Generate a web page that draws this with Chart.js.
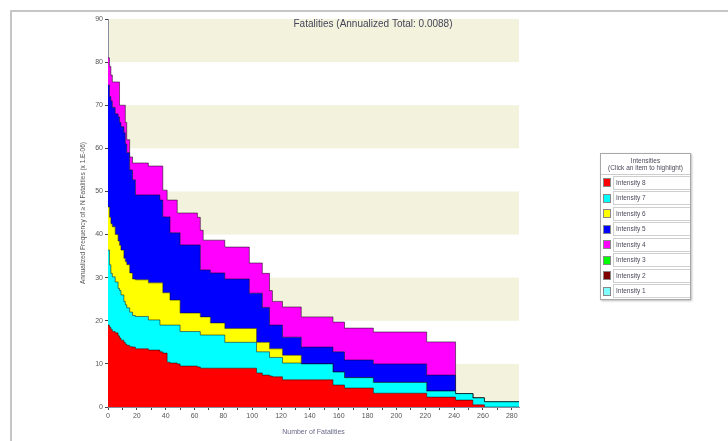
<!DOCTYPE html>
<html lang="en">
<head>
<meta charset="UTF-8" />
<title>Fatalities (Annualized Total: 0.0088)</title>
<script src="https://cdn.jsdelivr.net/npm/chart.js"></script>
<style>
  body {
    margin: 0;
    background: #fff;
    font-family: 'Liberation Sans', Arial, sans-serif;
  }
  #frame {
    position: absolute;
    left: 10px;
    top: 10px;
    width: 730px;
    height: 440px;
    border-top: 2px solid #c6c6c6;
    border-left: 2px solid #c6c6c6;
  }
  #chartBox {
    position: absolute;
    left: 0;
    top: 0;
    width: 530px;
    height: 441px;
    filter: blur(0.4px);
  }
  /* legend box on the right */
  #legend {
    position: absolute;
    left: 600px;
    top: 153px;
    width: 89px;
    border: 1px solid #a8a8a8;
    box-shadow: 1px 1px 2px #bbb;
    background: #fff;
    font-size: 6.5px;
    color: #4a4a5a;
    filter: blur(0.3px);
  }
  #legend .head {
    text-align: center;
    line-height: 7px;
    padding: 3px 0 3px;
    border-bottom: 1px solid #ccc;
  }
  #legend .row {
    display: flex;
    align-items: center;
    height: 15.5px;
  }
  #legend .sw {
    width: 8px;
    height: 9px;
    margin: 0 2px 0 2px;
    border: 1px solid #888;
    box-sizing: border-box;
  }
  #legend .lbl {
    flex: 1;
    height: 12px;
    line-height: 12px;
    border: 1px solid #cfcfcf;
    border-right: none;
    padding-left: 2px;
  }
</style>
</head>
<body>
<div id="frame"></div>
<div id="chartBox"><canvas id="fnChart"></canvas></div>
<div id="legend"></div>

<script>
// number of fatalities where the curves step (each value holds until the next one)
const fatalities = [0, 1, 2, 3, 5, 7, 8, 9, 11, 12, 13, 15, 17, 19, 28, 36, 38, 41, 43, 48,
  50, 62, 64, 66, 71, 81, 98, 103, 107, 112, 114, 121, 134, 156, 164, 184, 221, 241, 253, 261, 285];

// annualized frequency contribution of each intensity (x 1.E-06)
const intensity8 = [19, 18.5, 18, 17.5, 17.2, 16.5, 16, 15.5, 15, 14.6, 14.3, 14, 13.9, 13.5, 13.2, 12.8, 12.5, 10.4, 10.2, 10,
  9.5, 9.3, 9, 9, 9, 9, 9, 7.9, 7.4, 7.2, 7, 6.3, 6.3, 5.1, 4.4, 3.2, 2.3, 1.6, 0.5, 0, 0];
const intensity7 = [17.4, 14.5, 13, 12.7, 11.8, 11, 11, 10.5, 9.5, 9.1, 8.7, 8, 7.3, 7.5, 7, 6.2, 6.5, 8.6, 8.8, 9,
  8, 8.2, 7.7, 7.7, 7.7, 6, 6, 4.9, 5.4, 4.3, 4.5, 3.9, 3.7, 3, 2.4, 2.5, 1.4, 1.5, 1.6, 1.2, 1.2];
const intensity6 = [10, 11, 11.5, 11.6, 11, 11, 10.5, 10.4, 10, 10, 10, 9.1, 8.5, 8.5, 8.6, 9.8, 7.5, 7.5, 5.8, 5.8,
  4.3, 4.3, 4.2, 4.2, 2.8, 3.2, 3.2, 2.2, 2.2, 2, 2, 1.8, 0, 0, 0, 0, 0, 0, 0, 0, 0];
const intensity5 = [28.3, 28, 28.5, 27.7, 28, 28.8, 28.5, 28.6, 29.1, 27.3, 26, 23.9, 23, 19.7, 20.4, 19.2, 17.6, 17.6, 15.6, 15.6,
  15.8, 15.8, 10.9, 10.9, 11.6, 11.5, 8.2, 11.4, 8.1, 5.5, 5.5, 4.2, 3.9, 4.7, 4.1, 4.3, 3.7, 0, 0, 0, 0];
const intensity4 = [6.3, 7, 6, 5.9, 7.4, 8.1, 4, 5, 6.4, 5, 3, 3, 3.9, 7.4, 6.7, 7.9, 6.2, 3.9, 7.6, 4.6,
  7.4, 6.4, 9.2, 6.9, 7.6, 7.4, 7, 7, 7.9, 8, 5.5, 7, 7, 6.9, 7.4, 7.4, 7.7, 0, 0, 0, 0];
const intensity3 = [0, 0, 0, 0, 0, 0, 0, 0, 0, 0, 0, 0, 0, 0, 0, 0, 0, 0, 0, 0,
  0, 0, 0, 0, 0, 0, 0, 0, 0, 0, 0, 0, 0, 0, 0, 0, 0, 0, 0, 0, 0];
const intensity2 = [0, 0, 0, 0, 0, 0, 0, 0, 0, 0, 0, 0, 0, 0, 0, 0, 0, 0, 0, 0,
  0, 0, 0, 0, 0, 0, 0, 0, 0, 0, 0, 0, 0, 0, 0, 0, 0, 0, 0, 0, 0];
const intensity1 = [0, 0, 0, 0, 0, 0, 0, 0, 0, 0, 0, 0, 0, 0, 0, 0, 0, 0, 0, 0,
  0, 0, 0, 0, 0, 0, 0, 0, 0, 0, 0, 0, 0, 0, 0, 0, 0, 0, 0, 0, 0];

const seriesNames = ['Intensity 8', 'Intensity 7', 'Intensity 6', 'Intensity 5',
  'Intensity 4', 'Intensity 3', 'Intensity 2', 'Intensity 1'];
const seriesValues = [intensity8, intensity7, intensity6, intensity5,
  intensity4, intensity3, intensity2, intensity1];
const seriesColors = ['#ff0000', '#00ffff', '#ffff00', '#0000ff',
  '#ff00ff', '#00ff00', '#800000', '#7fffff'];

const yTicks = [0, 10, 20, 30, 40, 50, 60, 70, 80, 90];
const chartTitle = 'Fatalities (Annualized Total: 0.0088)';

// alternating beige bands behind the plot
const bandPlugin = {
  id: 'bands',
  beforeDraw(chart) {
    const { ctx, chartArea, scales } = chart;
    ctx.save();
    ctx.fillStyle = '#f3f3dd';
    for (let i = 0; i < yTicks.length - 1; i += 2) {
      const top = scales.y.getPixelForValue(yTicks[i + 1]);
      const bottom = scales.y.getPixelForValue(yTicks[i]);
      ctx.fillRect(chartArea.left, top, chartArea.right - chartArea.left, bottom - top);
    }
    ctx.restore();
  }
};

// title sits inside the plot, offset to the right
const titlePlugin = {
  id: 'insideTitle',
  afterDraw(chart) {
    const ctx = chart.ctx;
    ctx.save();
    ctx.font = '10px "Liberation Sans", Arial, sans-serif';
    ctx.fillStyle = '#44445a';
    ctx.textAlign = 'center';
    ctx.textBaseline = 'middle';
    ctx.fillText(chartTitle, 373, 24);
    ctx.restore();
  }
};

const datasets = seriesNames.map((name, k) => ({
  label: name,
  data: fatalities.map((x, i) => ({ x: x, y: seriesValues[k][i] })),
  backgroundColor: seriesColors[k],
  borderColor: 'rgba(0,0,0,0.5)',
  borderWidth: k < 5 ? 1 : 0,
  fill: k === 0 ? 'origin' : '-1',
  stepped: true,
  pointRadius: 0,
  tension: 0
}));

new Chart(document.getElementById('fnChart'), {
  type: 'line',
  data: { datasets: datasets },
  options: {
    responsive: true,
    maintainAspectRatio: false,
    animation: false,
    layout: { padding: { left: 79, right: 11, top: 19, bottom: 5 } },
    plugins: {
      legend: { display: false },
      tooltip: { enabled: false }
    },
    scales: {
      x: {
        type: 'linear',
        min: 0,
        max: 285,
        afterFit: s => { s.height = 29; },
        border: { color: '#8c8ca0', width: 1 },
        grid: { drawOnChartArea: false, drawTicks: true, tickLength: 3, color: '#444' },
        ticks: {
          stepSize: 10,
          includeBounds: false,
          autoSkip: false,
          maxRotation: 0,
          padding: 2,
          color: '#555',
          font: { size: 7 },
          callback: v => (v % 20 === 0 ? v : '')
        },
        title: {
          display: true,
          text: 'Number of Fatalities',
          color: '#6a6a8a',
          font: { size: 7 },
          padding: { top: 0, bottom: 0 }
        }
      },
      y: {
        stacked: true,
        min: 0,
        max: 90,
        afterFit: s => { s.width = 29; },
        border: { color: '#8c8ca0', width: 1 },
        grid: { drawOnChartArea: false, drawTicks: true, tickLength: 3, color: '#444' },
        ticks: { stepSize: 10, padding: 2, color: '#555', font: { size: 7 } },
        title: {
          display: true,
          text: 'Annualized Frequency of ≥ N Fatalities (x 1.E-06)',
          color: '#555',
          font: { size: 6.5 },
          padding: 0
        }
      }
    }
  },
  plugins: [bandPlugin, titlePlugin]
});

// legend built from the same names and colours
const legend = document.getElementById('legend');
legend.innerHTML = '<div class="head">Intensities<br>(Click an item to highlight)</div>' +
  seriesNames.map((name, k) =>
    `<div class="row"><span class="sw" style="background:${seriesColors[k]}"></span><span class="lbl">${name}</span></div>`
  ).join('');
</script>
</body>
</html>
